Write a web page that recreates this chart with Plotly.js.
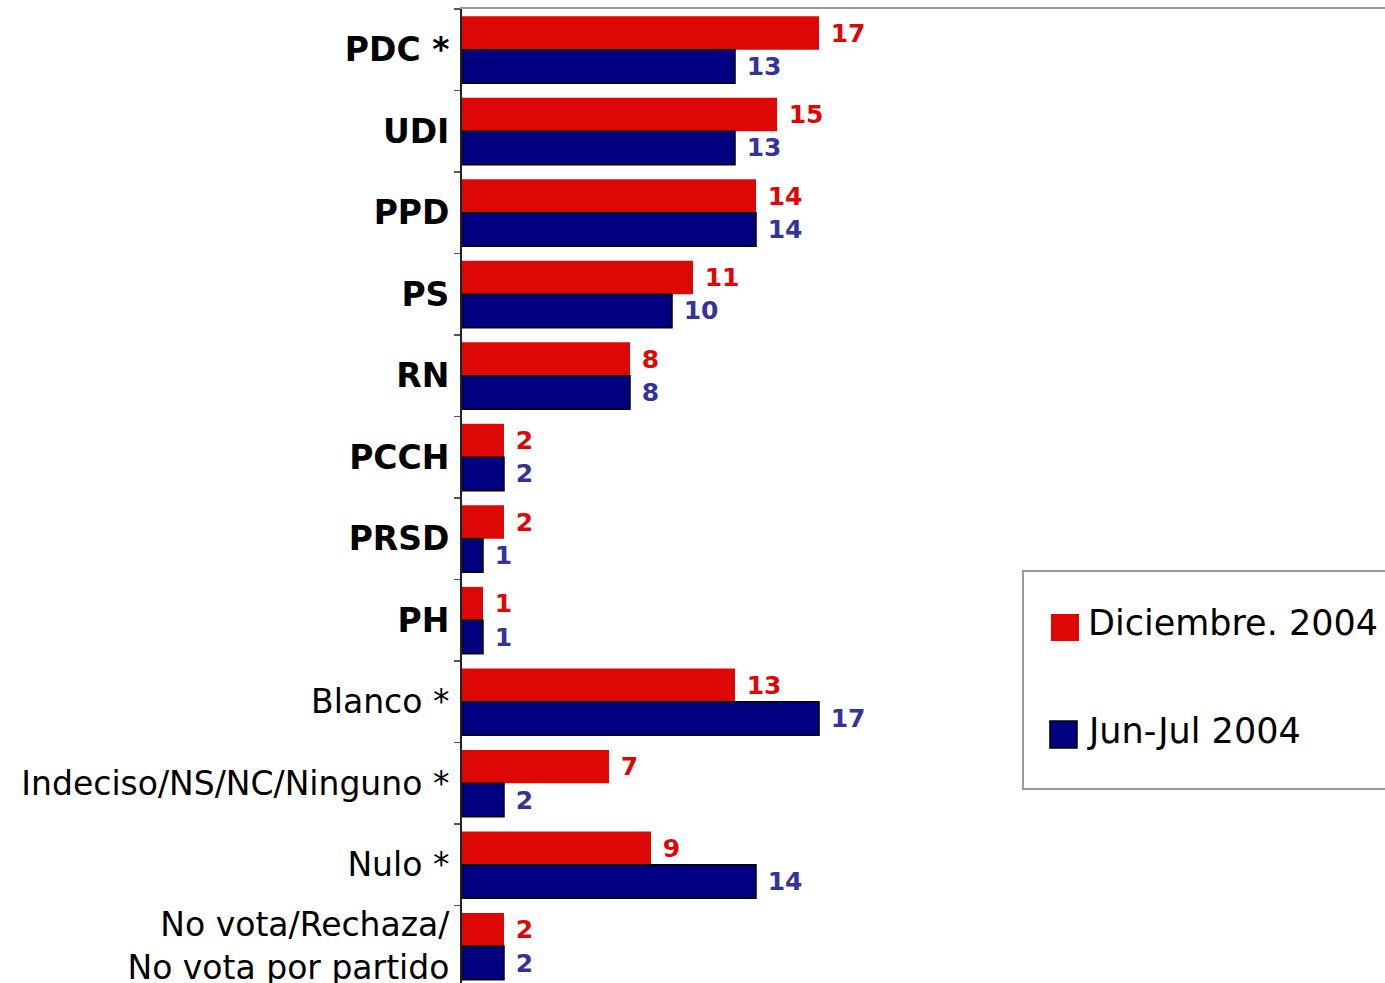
<!DOCTYPE html>
<html>
<head>
<meta charset="utf-8">
<script src="https://cdn.plot.ly/plotly-3.0.1.min.js"></script>
<style>html,body{margin:0;padding:0;background:#fff;}#chart{width:1385px;height:983px;}</style>
</head>
<body>
<div id="chart"></div>
<script>
const categories = ["PDC", "UDI", "PPD", "PS", "RN", "PCCH", "PRSD", "PH", "Blanco", "Indeciso", "Nulo", "NoVota"];
const tickLabels = ["<b>PDC *</b>", "<b>UDI</b>", "<b>PPD</b>", "<b>PS</b>", "<b>RN</b>", "<b>PCCH</b>", "<b>PRSD</b>", "<b>PH</b>",
  "Blanco *", "Indeciso/NS/NC/Ninguno *", "Nulo *", "No vota/Rechaza/<br>No vota por partido"];
const seriesNames = ["Diciembre. 2004", "Jun-Jul 2004"];
const dic2004 = [17, 15, 14, 11, 8, 2, 2, 1, 13, 7, 9, 2];
const junjul2004 = [13, 13, 14, 10, 8, 2, 1, 1, 17, 2, 14, 2];

const RED = "#DD0806";
const NAVY = "#000080";
const BLUE_TXT = "#333399";
const FONT = "DejaVu Sans, Verdana, sans-serif";

const traces = [
  {
    type: "bar", orientation: "h", name: seriesNames[0],
    y: categories, x: dic2004,
    marker: {color: RED, line: {width: 0}},
    texttemplate: "\u00a0%{x}", textposition: "outside",
    textfont: {family: FONT, size: 25, color: RED, weight: "bold"},
    constraintext: "none", cliponaxis: false, showlegend: false, hoverinfo: "skip"
  },
  {
    type: "bar", orientation: "h", name: seriesNames[1],
    y: categories, x: junjul2004,
    marker: {color: NAVY, line: {width: 1.5, color: "#000"}},
    texttemplate: "\u00a0%{x}", textposition: "outside",
    textfont: {family: FONT, size: 25, color: BLUE_TXT, weight: "bold"},
    constraintext: "none", cliponaxis: false, showlegend: false, hoverinfo: "skip"
  }
];

const layout = {
  width: 1385, height: 983,
  margin: {l: 462, r: 0, t: 9, b: 0, pad: 0},
  paper_bgcolor: "#fff", plot_bgcolor: "#fff",
  barmode: "group", bargap: 0.18, bargroupgap: 0,
  showlegend: false,
  font: {family: FONT, color: "#000"},
  xaxis: {
    range: [0, 43.95], side: "top", showline: true, linecolor: "#999", linewidth: 2,
    showticklabels: false, showgrid: false, zeroline: false, ticks: "", fixedrange: true
  },
  yaxis: {
    type: "category", categoryorder: "array", categoryarray: categories,
    tickmode: "array", tickvals: categories, ticktext: tickLabels,
    range: [11.45, -0.5],
    showline: true, linecolor: "#222", linewidth: 2,
    ticks: "outside", tickson: "boundaries", ticklen: 6, tickcolor: "#555", tickwidth: 1.5,
    ticklabelstandoff: 4,
    tickfont: {family: FONT, size: 33, color: "#000"},
    showgrid: false, zeroline: false, fixedrange: true
  },
  shapes: [
    {type: "rect", xref: "paper", yref: "paper", x0: 0.6078, x1: 1.03, y0: 0.1992, y1: 0.4230,
     line: {color: "#999", width: 2}, fillcolor: "rgba(0,0,0,0)"},
    {type: "rect", xref: "paper", yref: "paper", x0: 0.6381, x1: 0.6685, y0: 0.3511, y1: 0.3789,
     line: {width: 0}, fillcolor: RED},
    {type: "rect", xref: "paper", yref: "paper", x0: 0.6370, x1: 0.6663, y0: 0.2413, y1: 0.2690,
     line: {width: 1.5, color: "#000"}, fillcolor: NAVY}
  ],
  annotations: [
    {xref: "paper", yref: "paper", x: 0.6760, y: 0.3696, xanchor: "left", yanchor: "middle",
     text: seriesNames[0], showarrow: false, font: {family: FONT, size: 35, color: "#000"}},
    {xref: "paper", yref: "paper", x: 0.6750, y: 0.2587, xanchor: "left", yanchor: "middle",
     text: seriesNames[1], showarrow: false, font: {family: FONT, size: 35, color: "#000"}}
  ]
};

Plotly.newPlot("chart", traces, layout, {staticPlot: true, displayModeBar: false});
</script>
</body>
</html>
